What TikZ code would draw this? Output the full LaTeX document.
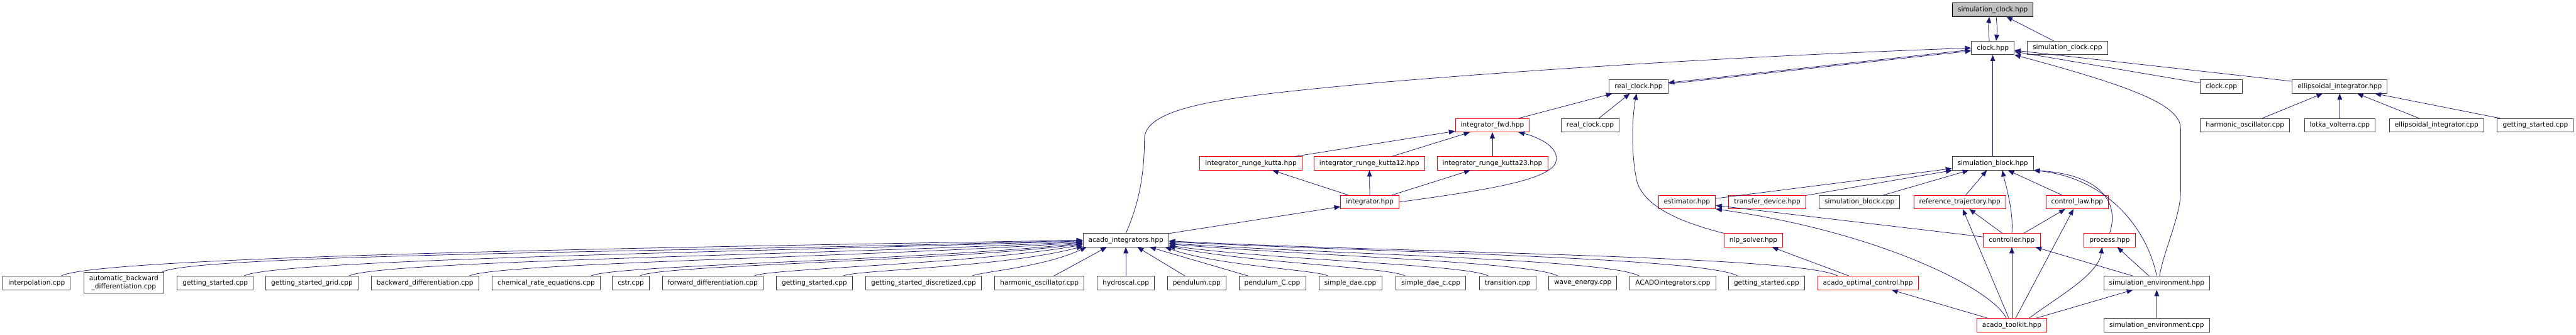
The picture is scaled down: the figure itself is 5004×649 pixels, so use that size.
\documentclass[tikz,border=0pt]{standalone}
\usepackage{fontspec}
\setmainfont{DejaVu Sans}
\definecolor{edgeblue}{RGB}{25,25,112}
\definecolor{boxgrey}{RGB}{64,64,64}
\definecolor{boxred}{RGB}{255,0,0}
\definecolor{rootgrey}{RGB}{191,191,191}
\usepackage{tikz}
\usetikzlibrary{arrows.meta, calc}

\begin{document}
\begin{tikzpicture}[
    x=0.75pt, y=0.75pt,
    file/.style={rectangle, draw=boxgrey, line width=0.75pt, fill=white,
                 inner xsep=7.9pt, inner ysep=4.5pt, minimum height=19.5pt,
                 font=\fontsize{9.7}{11.6}\selectfont},
    redfile/.style={file, draw=boxred},
    rootfile/.style={file, draw=black, fill=rootgrey},
    incl/.style={draw=edgeblue, line width=0.7pt, -{Triangle[length=9pt, width=7pt]}}
]
\useasboundingbox (0,0) rectangle (5004,-649);

\node[rootfile] (simclockhpp) at (3871,-19) {simulation\_clock.hpp};
\node[file] (clockhpp) at (3871,-93) {clock.hpp};
\node[file] (simclockcpp) at (4016,-93) {simulation\_clock.cpp};
\node[file] (realclockhpp) at (3183,-168) {real\_clock.hpp};
\node[file] (clockcpp) at (4315,-168) {clock.cpp};
\node[file] (ellhpp) at (4545,-168) {ellipsoidal\_integrator.hpp};
\node[redfile] (intfwd) at (2899,-243) {integrator\_fwd.hpp};
\node[file] (realclockcpp) at (3089,-243) {real\_clock.cpp};
\node[file] (harmosccpp) at (4361,-243) {harmonic\_oscillator.cpp};
\node[file] (lotkacpp) at (4545,-243) {lotka\_volterra.cpp};
\node[file] (ellcpp) at (4733,-243) {ellipsoidal\_integrator.cpp};
\node[file] (gsellcpp) at (4925,-243) {getting\_started.cpp};
\node[redfile] (rk) at (2430,-317) {integrator\_runge\_kutta.hpp};
\node[redfile] (rk12) at (2660,-317) {integrator\_runge\_kutta12.hpp};
\node[redfile] (rk23) at (2899,-317) {integrator\_runge\_kutta23.hpp};
\node[file] (simblockhpp) at (3871,-317) {simulation\_block.hpp};
\node[redfile] (integrator) at (2661,-392) {integrator.hpp};
\node[redfile] (estimator) at (3277,-392) {estimator.hpp};
\node[redfile] (transfer) at (3433,-392) {transfer\_device.hpp};
\node[file] (simblockcpp) at (3612,-392) {simulation\_block.cpp};
\node[redfile] (reftraj) at (3807,-392) {reference\_trajectory.hpp};
\node[redfile] (controllaw) at (4035,-392) {control\_law.hpp};
\node[file] (acadoint) at (2187,-466) {acado\_integrators.hpp};
\node[redfile] (nlp) at (3406,-466) {nlp\_solver.hpp};
\node[redfile] (controller) at (3908,-466) {controller.hpp};
\node[redfile] (process) at (4098,-466) {process.hpp};
\node[file] (interp) at (71,-549) {interpolation.cpp};
\node[file, align=center] (autoback) at (240.5,-548.5) {automatic\_backward\\\_differentiation.cpp};
\node[file] (gsa) at (418,-549) {getting\_started.cpp};
\node[file] (gsgrid) at (606,-549) {getting\_started\_grid.cpp};
\node[file] (backdiff) at (825.5,-549) {backward\_differentiation.cpp};
\node[file] (chemrate) at (1061,-549) {chemical\_rate\_equations.cpp};
\node[file] (cstr) at (1225.5,-549) {cstr.cpp};
\node[file] (fwddiff) at (1384.5,-549) {forward\_differentiation.cpp};
\node[file] (gsb) at (1582,-549) {getting\_started.cpp};
\node[file] (gsdisc) at (1794,-549) {getting\_started\_discretized.cpp};
\node[file] (harmosc) at (2019,-549) {harmonic\_oscillator.cpp};
\node[file] (hydroscal) at (2187,-549) {hydroscal.cpp};
\node[file] (pendulum) at (2324.5,-549) {pendulum.cpp};
\node[file] (pendulumc) at (2471.5,-549) {pendulum\_C.cpp};
\node[file] (simpledae) at (2623,-549) {simple\_dae.cpp};
\node[file] (simpledaec) at (2779.5,-549) {simple\_dae\_c.cpp};
\node[file] (transition) at (2928.5,-549) {transition.cpp};
\node[file] (waveenergy) at (3074.5,-549) {wave\_energy.cpp};
\node[file] (acadointcpp) at (3249.5,-549) {ACADOintegrators.cpp};
\node[file] (gsc) at (3431.5,-549) {getting\_started.cpp};
\node[redfile] (optctrl) at (3628.5,-549) {acado\_optimal\_control.hpp};
\node[file] (simenvhpp) at (4189.5,-549) {simulation\_environment.hpp};
\node[redfile] (toolkit) at (3908,-631) {acado\_toolkit.hpp};
\node[file] (simenvcpp) at (4189.5,-631) {simulation\_environment.cpp};

\draw[incl] ([xshift=-5pt]clockhpp.north) .. controls +(-1.5pt,15pt) and +(-1.5pt,-15pt) .. ([xshift=-5pt]simclockhpp.south);
\draw[incl] ([xshift=5pt]simclockhpp.south) .. controls +(1.5pt,-15pt) and +(1.5pt,15pt) .. ([xshift=5pt]clockhpp.north);
\draw[incl] (simclockcpp) -- (simclockhpp);
\draw[incl, transform canvas={yshift=0.8pt}] (clockhpp) -- (realclockhpp);
\draw[incl, transform canvas={yshift=-0.8pt}] (realclockhpp) -- (clockhpp);
\draw[incl] (acadoint.north) .. controls (2215,-390) and (2223,-330) .. (2223,-270)
    .. controls (2223,-200) and (2420,-185) .. (2680,-160)
    .. controls (3100,-125) and (3500,-105) .. (clockhpp.west);
\draw[incl] (simblockhpp) -- (clockhpp);
\draw[incl] ([xshift=4pt]simenvhpp.north) .. controls (4205,-480) and (4236,-420) .. (4236,-370)
    -- (4236,-250) .. controls (4236,-205) and (4150,-170) .. (clockhpp.south east);
\draw[incl] (clockcpp) -- (clockhpp);
\draw[incl] (ellhpp) -- (clockhpp);

\draw[incl] (harmosccpp) -- (ellhpp);
\draw[incl] (lotkacpp) -- (ellhpp);
\draw[incl] (ellcpp) -- (ellhpp);
\draw[incl] (gsellcpp) -- (ellhpp);

\draw[incl] (intfwd) -- (realclockhpp);
\draw[incl] (realclockcpp) -- (realclockhpp);
\draw[incl] (nlp.north west) .. controls (3260,-430) and (3195,-400) .. (3180,-353)
    .. controls (3168,-300) and (3170,-230) .. ([xshift=-3pt]realclockhpp.south);

\draw[incl] (rk) -- (intfwd);
\draw[incl] (rk12) -- (intfwd);
\draw[incl] (rk23) -- (intfwd);
\draw[incl] (integrator) -- (rk);
\draw[incl] (integrator) -- (rk12);
\draw[incl] (integrator) -- (rk23);
\draw[incl] (integrator.east) .. controls (2880,-370) and (3010,-350) .. (3022,-315)
    .. controls (3032,-285) and (2985,-265) .. (intfwd.-15);
\draw[incl] (acadoint) -- (integrator);

\draw[incl] (estimator) -- (simblockhpp);
\draw[incl] (transfer) -- (simblockhpp);
\draw[incl] (simblockcpp) -- (simblockhpp);
\draw[incl] (reftraj) -- (simblockhpp);
\draw[incl] (controllaw) -- (simblockhpp);
\draw[incl] (controller.north) .. controls (3912,-410) and (3895,-355) .. (simblockhpp.-36);
\draw[incl] (process.north) .. controls (4120,-385) and (4070,-338) .. (simblockhpp.south east);
\draw[incl] (simenvhpp.north) .. controls (4170,-440) and (4090,-345) .. (simblockhpp.south east);

\draw[incl] (controller) -- (estimator);
\draw[incl] (controller) -- (reftraj);
\draw[incl] (controller) -- (controllaw);
\draw[incl] ([xshift=-8pt]toolkit.north) .. controls (3870,-560) and (3650,-450) .. (estimator.south east);
\draw[incl] (toolkit) -- (reftraj);
\draw[incl] (toolkit) -- (controllaw);
\draw[incl] (toolkit) -- (controller);
\draw[incl] ([xshift=25pt]toolkit.north) .. controls +(40pt,30pt) and +(-5pt,-40pt) .. ([xshift=-11pt]process.south);
\draw[incl] (toolkit) -- (simenvhpp);
\draw[incl] (toolkit) -- (optctrl);
\draw[incl] (simenvhpp) -- (controller);
\draw[incl] (simenvhpp) -- (process);
\draw[incl] (simenvcpp) -- (simenvhpp);
\draw[incl] (optctrl) -- (nlp);

\draw[incl] ([xshift=-14pt]interp.north east) .. controls +(30:60pt) and +(181:500pt) .. (acadoint.180);
\draw[incl] ([xshift=-3pt]autoback.north east) .. controls +(30:55pt) and +(182:450pt) .. (acadoint.180);
\draw[incl] ([xshift=-14pt]gsa.north east) .. controls +(30:50pt) and +(182:410pt) .. (acadoint.181);
\draw[incl] ([xshift=-14pt]gsgrid.north east) .. controls +(30:45pt) and +(183:360pt) .. (acadoint.182);
\draw[incl] ([xshift=-14pt]backdiff.north east) .. controls +(30:38pt) and +(184:300pt) .. (acadoint.183);
\draw[incl] ([xshift=-14pt]chemrate.north east) .. controls +(30:32pt) and +(186:245pt) .. (acadoint.184);
\draw[incl] ([xshift=-14pt]cstr.north east) .. controls +(35:28pt) and +(187:215pt) .. (acadoint.185);
\draw[incl] ([xshift=-14pt]fwddiff.north east) .. controls +(30:22pt) and +(190:165pt) .. (acadoint.186);
\draw[incl] ([xshift=-14pt]gsb.north east) .. controls +(30:18pt) and +(195:120pt) .. (acadoint.188);
\draw[incl] ([xshift=-14pt]gsdisc.north east) .. controls +(30:12pt) and +(205:70pt) .. (acadoint.190);
\draw[incl] ([xshift=21pt]harmosc.north) -- (acadoint.200);
\draw[incl] (hydroscal) -- (acadoint);
\draw[incl] (pendulum) -- (acadoint);
\draw[incl] (pendulumc) -- (acadoint);
\draw[incl] ([xshift=14pt]simpledae.north west) .. controls +(150:18pt) and +(-20:80pt) .. (acadoint.350);
\draw[incl] ([xshift=14pt]simpledaec.north west) .. controls +(150:26pt) and +(-12:115pt) .. (acadoint.352);
\draw[incl] ([xshift=14pt]transition.north west) .. controls +(150:34pt) and +(-8:155pt) .. (acadoint.353);
\draw[incl] ([xshift=14pt]waveenergy.north west) .. controls +(150:42pt) and +(-5:190pt) .. (acadoint.355);
\draw[incl] ([xshift=14pt]acadointcpp.north west) .. controls +(150:50pt) and +(-4:230pt) .. (acadoint.356);
\draw[incl] ([xshift=14pt]gsc.north west) .. controls +(150:55pt) and +(-3:280pt) .. (acadoint.358);
\draw[incl] ([xshift=30pt]optctrl.north west) .. controls +(150:60pt) and +(-3:325pt) .. (acadoint.359);
\end{tikzpicture}
\end{document}
